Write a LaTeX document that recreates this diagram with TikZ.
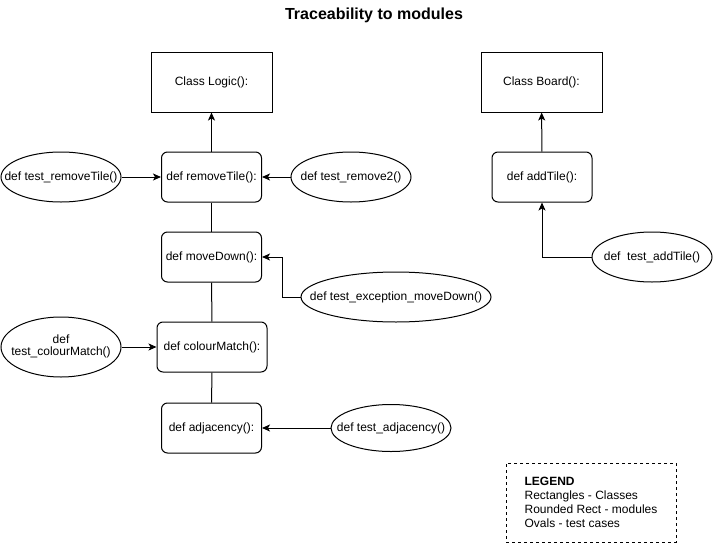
\documentclass[tikz,border=0pt]{standalone}
\usepackage{fontspec}
\setmainfont{Liberation Sans}
\usetikzlibrary{shapes.geometric,arrows.meta}
\begin{document}
\begin{tikzpicture}[x=1pt,y=-1pt,line width=1pt,
  every node/.style={font=\fontsize{12}{14}\selectfont},
  cls/.style={draw,minimum width=121pt,minimum height=60pt,inner sep=0pt},
  mod/.style={draw,rounded corners=6pt,minimum width=100pt,minimum height=50pt,inner sep=0pt},
  tc/.style={draw,ellipse,minimum width=120pt,minimum height=50pt,inner sep=0pt},
  arr/.style={-{Stealth[length=8pt,width=7pt,inset=2pt]}}]
\useasboundingbox (0,0) rectangle (713,544);

\node[font=\bfseries\fontsize{16}{19}\selectfont] (title) at (374,15) {Traceability to modules};

\node[cls] (logic) at (211.5,82) {Class Logic():};
\node[cls] (board) at (541.5,82) {Class Board():};

\node[mod] (rt) at (211.5,177) {def removeTile():};
\node[mod] (md) at (211.5,257) {def moveDown():};
\node[mod,minimum width=110pt] (cm) at (212,347) {def colourMatch():};
\node[mod] (adj) at (211.5,428) {def adjacency():};
\node[mod] (at) at (542,177) {def addTile():};

\node[tc] (trt) at (61,177) {\makebox[0pt]{def test\_removeTile()}};
\node[tc] (tr2) at (351,177) {\makebox[0pt]{def test\_remove2()}};
\node[tc,minimum width=190pt] (tem) at (396,297) {\makebox[0pt]{def test\_exception\_moveDown()}};
\node[tc,minimum height=60pt] (tcm) at (61,347) {\makebox[0pt]{\begin{tabular}{@{}c@{}}def\\[-2pt]test\_colourMatch()\end{tabular}}};
\node[tc,minimum height=47pt] (tadj) at (391,428) {\makebox[0pt]{def test\_adjacency()}};
\node[tc] (tat) at (652,257) {\makebox[0pt]{def\ \ test\_addTile()}};

\node[draw,dashed,minimum width=170pt,minimum height=79pt,align=left,
  font=\fontsize{12}{13.8}\selectfont] (legend) at (591,502.5)
  {\textbf{LEGEND}\\Rectangles - Classes\\Rounded Rect - modules\\Ovals - test cases};

\coordinate (bend) at (282,297);

\draw[arr] (rt) -- (logic);
\draw[arr] (trt) -- (rt);
\draw[arr] (tr2) -- (rt);
\draw (rt) -- (md);
\draw (md) -- (cm);
\draw (cm) -- (adj);
\draw[arr] (tem.west) -- (bend) |- (md.east);
\draw[arr] (tcm) -- (cm);
\draw[arr] (tadj) -- (adj);
\draw[arr] (at) -- (board);
\draw[arr] (tat.west) -| (at.south);
\end{tikzpicture}
\end{document}
